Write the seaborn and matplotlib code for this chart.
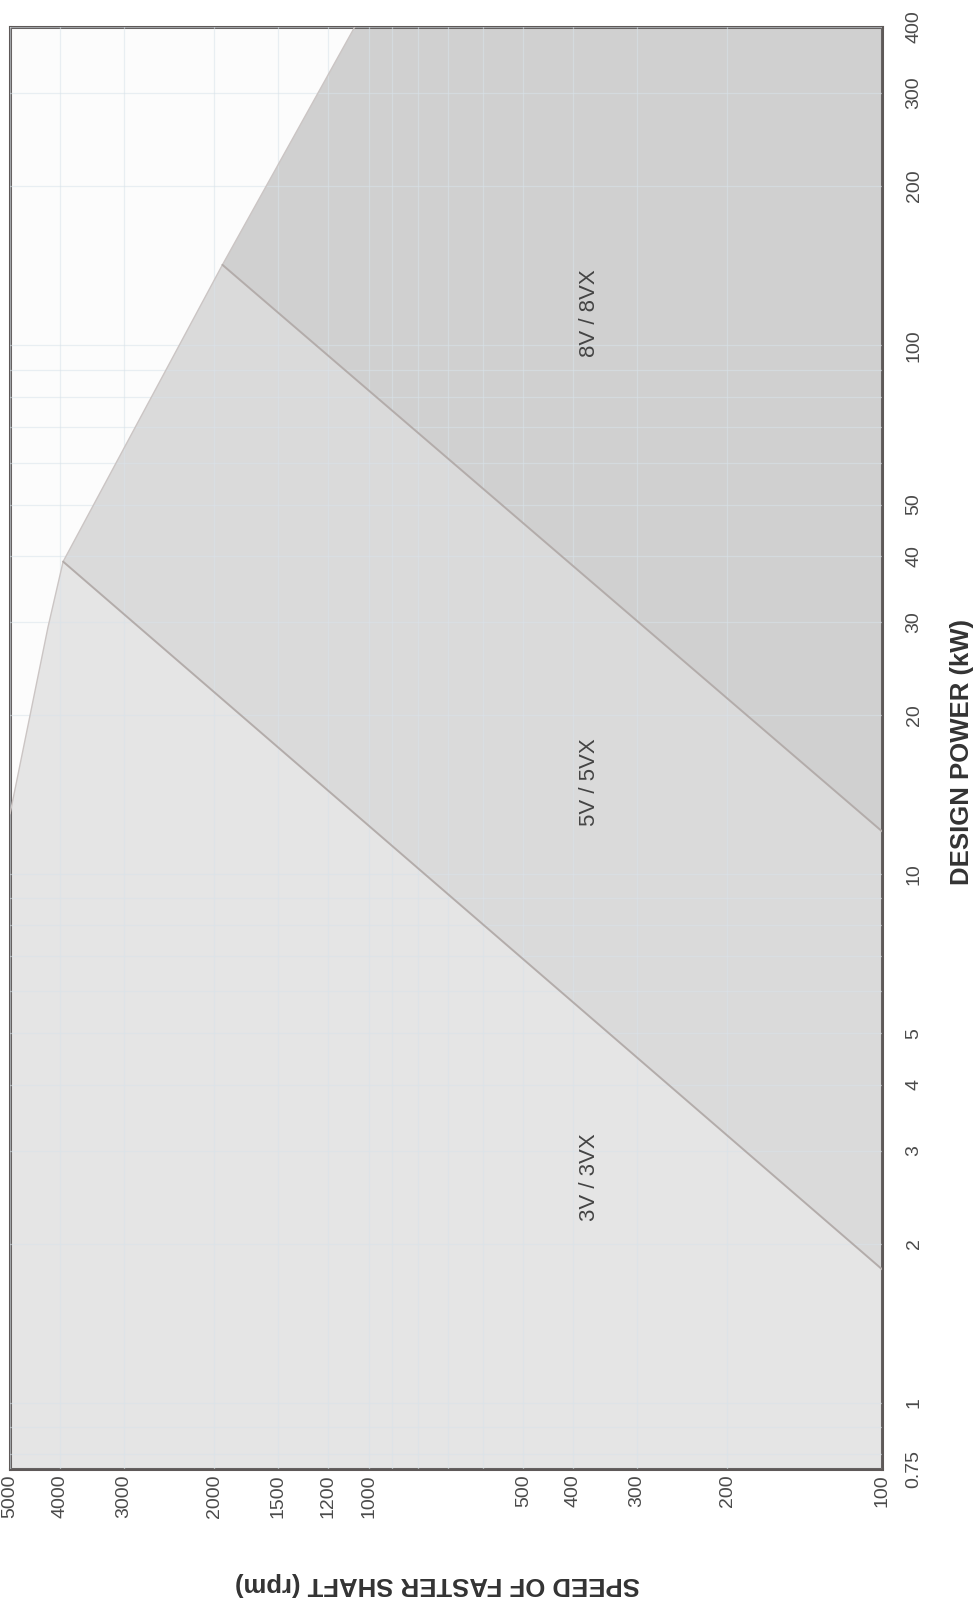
import matplotlib
matplotlib.use("Agg")
import matplotlib.pyplot as plt
from matplotlib.ticker import FixedLocator, NullFormatter, LogLocator
import seaborn as sns
import pandas as pd

# === eixos (rpm e kW) ===
speed_ticks = [5000, 4000, 3000, 2000, 1500, 1200, 1000, 500, 400, 300, 200, 100]
power_ticks = [0.75, 1, 2, 3, 4, 5, 10, 20, 30, 40, 50, 100, 200, 300, 400]
power_tick_labels = ["0.75", "1", "2", "3", "4", "5", "10", "20", "30", "40", "50",
                     "100", "200", "300", "400"]

# === limite externo do grafico (kW, rpm) ===
env_power = [13.0, 29.3, 39, 142, 400]
env_speed = [5000, 4217, 3940, 1928, 1065]

# === linhas de divisao entre secoes ===
split35_power = [1.79, 39]
split35_speed = [100, 3940]
split58_power = [12.05, 142]
split58_speed = [100, 1928]

# === secoes ===
zone_names = ["3V / 3VX", "5V / 5VX", "8V / 8VX"]
zone_colors = ["#e5e5e5", "#dadada", "#d0d0d0"]
label_power = [2.67, 14.9, 115]
label_speed = [372, 372, 372]

sns.set_theme(style="white")
plt.rcParams["font.family"] = ["Liberation Sans", "DejaVu Sans"]

fig = plt.figure(figsize=(9.76, 16.05), dpi=100)
ax = fig.add_axes([10 / 976, 136 / 1605, 872 / 976, 1442 / 1605])
ax.set_facecolor("#fcfcfc")

# poligonos de cada secao (x = rpm, y = kW)
zones = [
    ([5000, 100] + split35_speed + [env_speed[1], env_speed[0]],
     [0.75, 0.75] + split35_power + [env_power[1], env_power[0]]),
    ([split35_speed[0], split58_speed[0], split58_speed[1], split35_speed[1]],
     [split35_power[0], split58_power[0], split58_power[1], split35_power[1]]),
    ([split58_speed[0], 100, env_speed[4], split58_speed[1]],
     [split58_power[0], 400, env_power[4], split58_power[1]]),
]
for (xs, ys), c in zip(zones, zone_colors):
    ax.fill(xs, ys, color=c, lw=0, zorder=1)

# linhas
env_df = pd.DataFrame({"speed": env_speed, "power": env_power})
sns.lineplot(data=env_df, x="speed", y="power", sort=False, estimator=None,
             color="#cbc5c4", lw=1.0, ax=ax, zorder=3)
for sx, py in [(split35_speed, split35_power), (split58_speed, split58_power)]:
    sns.lineplot(x=sx, y=py, sort=False, estimator=None, color="#b3acaa",
                 lw=1.4, ax=ax, zorder=3)

ax.set_xscale("log")
ax.set_yscale("log")
ax.set_xlim(5000, 100)
ax.set_ylim(0.75, 400)

ax.xaxis.set_major_locator(FixedLocator(speed_ticks))
ax.set_xticklabels([str(v) for v in speed_ticks])
ax.yaxis.set_major_locator(FixedLocator(power_ticks))
ax.set_yticklabels(power_tick_labels)
ax.xaxis.set_minor_locator(LogLocator(base=10, subs=range(2, 10)))
ax.yaxis.set_minor_locator(LogLocator(base=10, subs=range(2, 10)))
ax.xaxis.set_minor_formatter(NullFormatter())
ax.yaxis.set_minor_formatter(NullFormatter())

ax.set_axisbelow(False)
ax.grid(which="both", color="#d9e3ea", lw=0.9, alpha=0.55)

ax.yaxis.tick_right()
ax.tick_params(axis="both", which="both", length=0)
ax.tick_params(axis="x", pad=4, labelsize=14, labelcolor="#4a4a4a")
ax.tick_params(axis="y", pad=17, labelsize=14, labelcolor="#4a4a4a")
for t in ax.get_xticklabels():
    t.set_rotation(90)
    t.set_ha("center")
    t.set_va("top")
for t in ax.get_yticklabels():
    t.set_rotation(90)
    t.set_ha("left")
    t.set_va("center")

for s in ax.spines.values():
    s.set_color("#5e5958")
    s.set_linewidth(2.2)

for name, px, py in zip(zone_names, label_speed, label_power):
    ax.text(px, py, name, rotation=90, ha="center", va="center",
            fontsize=16, color="#444444", zorder=4)

ax.set_xlabel("SPEED OF FASTER SHAFT (rpm)", fontsize=18.5, fontweight="bold",
              color="#333333", rotation=180, ha="center", va="center")
ax.xaxis.set_label_coords(0.49, -0.080)
ax.yaxis.set_label_position("right")
ax.set_ylabel("DESIGN POWER (kW)", fontsize=18.5, fontweight="bold",
              color="#333333", rotation=90, ha="center", va="center")
ax.yaxis.set_label_coords(1.092, 0.497)

fig.savefig("out.png", dpi=100, facecolor="white")
